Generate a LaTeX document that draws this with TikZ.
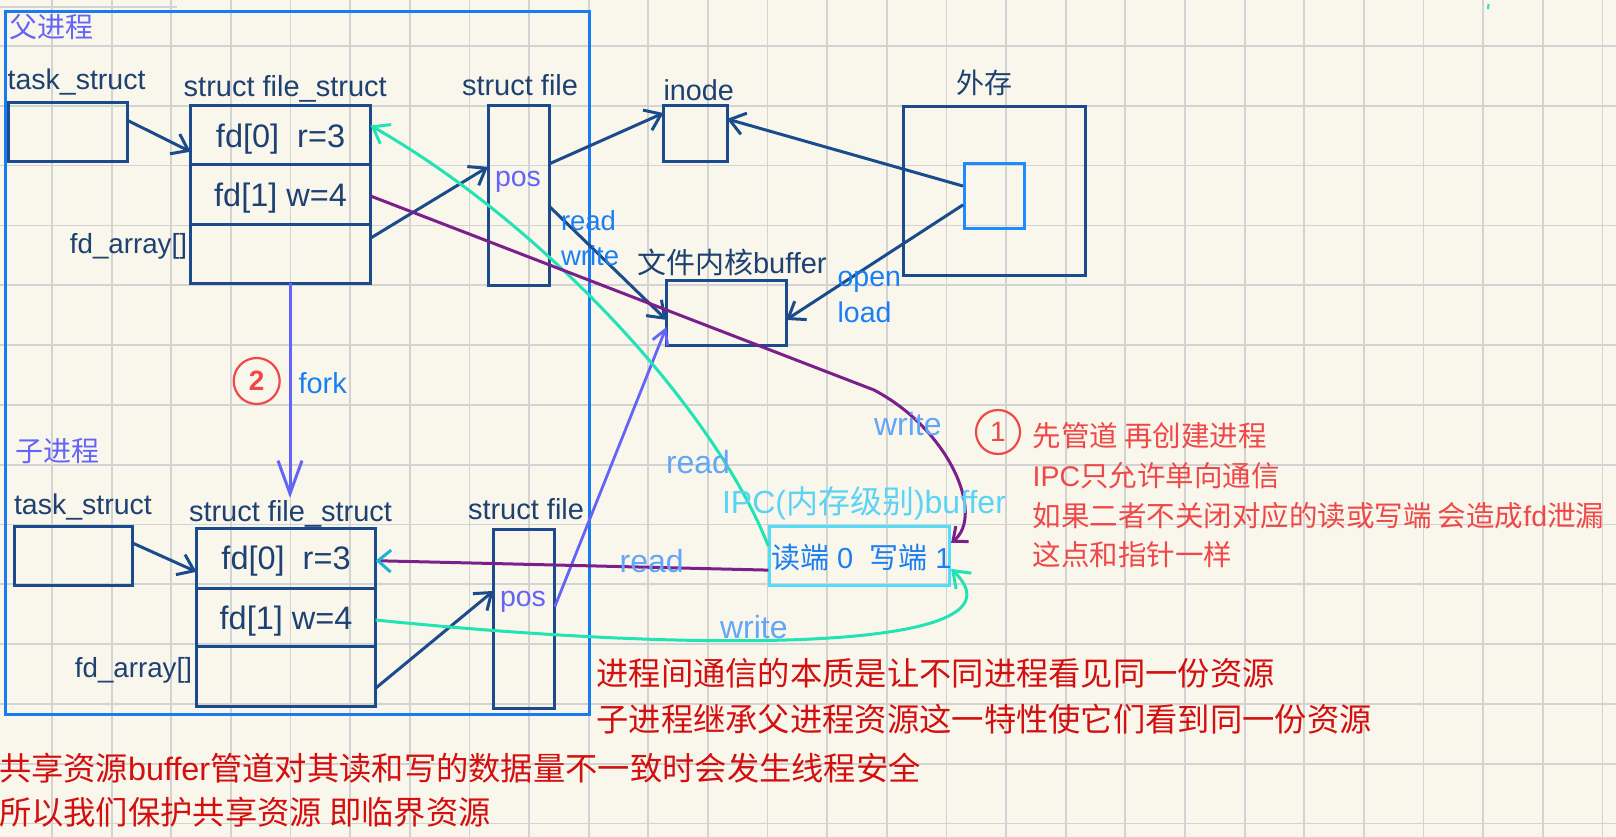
\documentclass[tikz,border=0pt]{standalone}
\usepackage{fontspec}
\setmainfont{Liberation Sans}
\newfontfamily\cjk{Noto Sans CJK SC}
\usetikzlibrary{arrows.meta,calc}
\definecolor{cBg}{HTML}{F9F7EB}
\definecolor{cGrid}{HTML}{D3D3D3}
\definecolor{cFrame}{HTML}{1A7AF2}
\definecolor{cNavy}{HTML}{1B4B8C}
\definecolor{cText}{HTML}{1E4172}
\definecolor{cPB}{HTML}{6464F8}
\definecolor{cBright}{HTML}{1A7FF2}
\definecolor{cLB}{HTML}{62A6F7}
\definecolor{cIPCt}{HTML}{5BD3F5}
\definecolor{cIPCb}{HTML}{55DCF8}
\definecolor{cTeal}{HTML}{22E3B4}
\definecolor{cPurple}{HTML}{7A1F8C}
\definecolor{cRL}{HTML}{F04848}
\definecolor{cRD}{HTML}{D40F0F}
\definecolor{cInner}{HTML}{1E8CFF}
\definecolor{cTip}{HTML}{1AB4D8}
\newcommand\myfs[1]{\fontsize{#1pt}{#1pt}\selectfont}
\begin{document}
\begin{tikzpicture}[x=1pt,y=-1pt,
  grid/.style={draw=cGrid, line width=1.8pt},
  bx/.style={draw=cNavy, line width=3pt, inner sep=0pt, outer sep=0pt, anchor=north west},
  row/.style={bx, text=cText, font=\myfs{32.5}, text depth=0pt},
  tx/.style={inner sep=0pt, outer sep=0pt, anchor=base west, text=cText},
  barb/.style={-{Straight Barb[length=15pt,width=22pt]}},
  na/.style={draw=cNavy, line width=3pt, barb},
  tl/.style={draw=cTeal, line width=3pt, barb},
  pl/.style={draw=cPurple, line width=3pt},
  fk/.style={draw=cPB, line width=3pt, -{Straight Barb[length=33pt,width=24pt]}},
  bp/.style={draw=cPB, line width=2.8pt, -{Straight Barb[length=14pt,width=16pt]}},
  rc/.style={circle, draw=cRL, line width=2.2pt, inner sep=0pt, text=cRL}
]
\useasboundingbox (0,0) rectangle (1616,837);
\fill[cBg] (0,0) rectangle (1616,837);
\foreach \i in {0,...,26} \draw[grid] ({52+59.63*\i},0) -- ({52+59.63*\i},837);
\foreach \j in {0,...,13} \draw[grid] (0,{46+59.8*\j}) -- (1616,{46+59.8*\j});
\draw[cGrid, line width=1.5pt] (0,7) -- (177,7);
\draw[cTeal, line width=2pt] (1488.5,4) -- (1488,9);

% parent frame
\node[draw=cFrame, line width=3pt, anchor=north west, inner sep=0pt, minimum width=583.5pt, minimum height=703pt] (frame) at (4,10) {};

% parent boxes
\node[bx, minimum width=118.6pt, minimum height=59pt] (pts) at (8.4,103) {};
\node[row, minimum width=179.9pt, minimum height=59pt] (pfs0) at (190.6,106) {fd[0]\ \ r=3};
\node[row, minimum width=179.9pt, minimum height=59pt] (pfs1) at (190.6,165) {fd[1] w=4};
\node[row, minimum width=179.9pt, minimum height=59pt] (pfs2) at (190.6,224) {};
\node[bx, minimum width=61pt, minimum height=179pt] (pfile) at (488,106) {};

% child boxes
\node[bx, minimum width=118.5pt, minimum height=59pt] (cts) at (14,526) {};
\node[row, minimum width=179.1pt, minimum height=60pt] (cfs0) at (196.5,528) {fd[0]\ \ r=3};
\node[row, minimum width=179.1pt, minimum height=58.7pt] (cfs1) at (196.5,588) {fd[1] w=4};
\node[row, minimum width=179.1pt, minimum height=59.3pt] (cfs2) at (196.5,646.7) {};
\node[bx, minimum width=61.3pt, minimum height=179pt] (cfile) at (493.5,529) {};

% other boxes
\node[bx, minimum width=63.5pt, minimum height=55.7pt] (inode) at (663.5,106) {};
\node[bx, minimum width=119.6pt, minimum height=64.3pt] (buf) at (666.4,280.7) {};
\node[bx, minimum width=182pt, minimum height=168.3pt] (ext) at (903,106.7) {};
\node[draw=cInner, line width=3pt, inner sep=0pt, anchor=north west, minimum width=60pt, minimum height=65pt] (inner) at (963,161.7) {};
\node[draw=cIPCb, line width=2.8pt, inner sep=0pt, anchor=north west, minimum width=180pt, minimum height=59pt] (ipc) at (768.3,525) {};

% navy connectors
\draw[na] ($(pts.north east)!0.29!(pts.south east)$) -- ($(pfs0.north west)!0.775!(pfs0.south west)$);
\draw[na] ($(pfs2.north east)!0.24!(pfs2.south east)$) -- ($(pfile.north west)!0.34!(pfile.south west)$);
\draw[na] ($(pfile.north east)!0.324!(pfile.south east)$) -- ($(inode.north west)!0.126!(inode.south west)$);
\draw[na] ($(pfile.north east)!0.559!(pfile.south east)$) -- ($(buf.north west)!0.61!(buf.south west)$);
\draw[na] ($(inner.north west)!0.358!(inner.south west)$) -- ($(inode.north east)!0.233!(inode.south east)$);
\draw[na] ($(inner.north west)!0.635!(inner.south west)$) -- ($(buf.north east)!0.61!(buf.south east)$);
\draw[na] ($(cts.north east)!0.288!(cts.south east)$) -- ($(cfs0.north west)!0.73!(cfs0.south west)$);
\draw[na] ($(cfs2.north east)!0.70!(cfs2.south east)$) -- ($(cfile.north west)!0.346!(cfile.south west)$);

% fork
\coordinate (forkend) at (290,498);
\draw[fk] (pfs2.south -| forkend) -- (forkend);

% child pos -> buffer
\draw[bp] ($(cfile.north east)!0.434!(cfile.south east)$) -- ($(buf.north west)!0.72!(buf.south west)$);

% teal curves
\draw[tl] ($(ipc.north west)!0.34!(ipc.south west)$) .. controls (715,410) and (545,225) .. ($(pfs0.north east)!0.33!(pfs0.south east)$);
\draw[tl] ($(cfs1.north east)!0.545!(cfs1.south east)$) .. controls (720,655) and (1035,650) .. ($(ipc.north east)!0.71!(ipc.south east)$);

% purple
\coordinate (kink) at (874,390);
\draw[pl, -{Straight Barb[length=12pt,width=20pt]}] ($(pfs1.north east)!0.525!(pfs1.south east)$) -- (kink) .. controls (950,430) and (985,515) .. ($(ipc.north east)!0.29!(ipc.south east)$);
\draw[pl, -{Straight Barb[length=13pt,width=22pt,color=cTip]}] ($(ipc.north west)!0.73!(ipc.south west)$) -- ($(cfs0.north east)!0.545!(cfs0.south east)$);

% circled marks
\node[rc, minimum size=46pt] (c2) at (256.7,381) {\myfs{28}\bfseries 2};
\node[rc, minimum size=44pt] (c1) at (998,432) {\myfs{28}1};

% texts
\node[tx, text=cPB] (tParent) at (9.5,38) {\myfs{28}\cjk 父进程};
\node[tx, text=cPB] (tChild) at (16,461) {\myfs{28}\cjk 子进程};
\node[tx] (tTs1) at (7.7,90) {\myfs{28.5}task\_struct};
\node[tx] (tFs1) at (183.7,97) {\myfs{29}struct file\_struct};
\node[tx] (tF1) at (462,96) {\myfs{29}struct file};
\node[tx, anchor=base east] (tArr1) at (187,253) {\myfs{27.7}fd\_array[]};
\node[tx, text=cPB] (tPos1) at (495,187) {\myfs{28.5}pos};
\node[tx, text=cBright] (tRead1) at (561,230.5) {\myfs{27.5}read};
\node[tx, text=cBright] (tWrite1) at (561,265) {\myfs{27.5}write};
\node[tx] (tInode) at (663.5,101) {\myfs{28.8}inode};
\node[tx] (tExt) at (956,94) {\myfs{28}\cjk 外存};
\node[tx] (tBuf) at (637,273) {\myfs{29}{\cjk 文件内核}buffer};
\node[tx, text=cBright] (tOpen) at (837.6,286) {\myfs{28.5}open};
\node[tx, text=cBright] (tLoad) at (837.6,322.5) {\myfs{28.5}load};
\node[tx, text=cBright] (tFork) at (298.5,393) {\myfs{29}fork};
\node[tx] (tTs2) at (14,514) {\myfs{28.5}task\_struct};
\node[tx] (tFs2) at (189,521) {\myfs{29}struct file\_struct};
\node[tx] (tF2) at (468,519) {\myfs{29}struct file};
\node[tx, anchor=base east] (tArr2) at (192,677) {\myfs{27.7}fd\_array[]};
\node[tx, text=cPB] (tPos2) at (500,606.5) {\myfs{28.5}pos};
\node[tx, text=cIPCt] (tIPC) at (722,513) {\myfs{32}IPC({\cjk 内存级别})buffer};
\node[tx, text=cBright] (tEnds) at (771,568) {\myfs{29}{\cjk 读端} 0\ \ {\cjk 写端} 1};
\node[tx, text=cLB] (tW2) at (874,435) {\myfs{32}write};
\node[tx, text=cLB] (tR2) at (666,473) {\myfs{32}read};
\node[tx, text=cLB] (tR3) at (619.6,572) {\myfs{32}read};
\node[tx, text=cLB] (tW3) at (720,638) {\myfs{32}write};

\node[tx, text=cRL] (n1) at (1032.6,446) {\myfs{28.5}\cjk 先管道 再创建进程};
\node[tx, text=cRL] (n2) at (1032.6,486) {\myfs{28.5}IPC{\cjk 只允许单向通信}};
\node[tx, text=cRL] (n3) at (1032.6,526) {\myfs{28.5}{\cjk 如果二者不关闭对应的读或写端 会造成}fd{\cjk 泄漏}};
\node[tx, text=cRL] (n4) at (1032.6,565) {\myfs{28.5}\cjk 这点和指针一样};

\node[tx, text=cRD] (m1) at (596.4,685) {\myfs{32.3}\cjk 进程间通信的本质是让不同进程看见同一份资源};
\node[tx, text=cRD] (m2) at (596.4,731) {\myfs{32.3}\cjk 子进程继承父进程资源这一特性使它们看到同一份资源};
\node[tx, text=cRD] (m3) at (-1,780) {\myfs{32.3}{\cjk 共享资源}buffer{\cjk 管道对其读和写的数据量不一致时会发生线程安全}};
\node[tx, text=cRD] (m4) at (-1,824) {\myfs{32.3}\cjk 所以我们保护共享资源 即临界资源};
\end{tikzpicture}
\end{document}
